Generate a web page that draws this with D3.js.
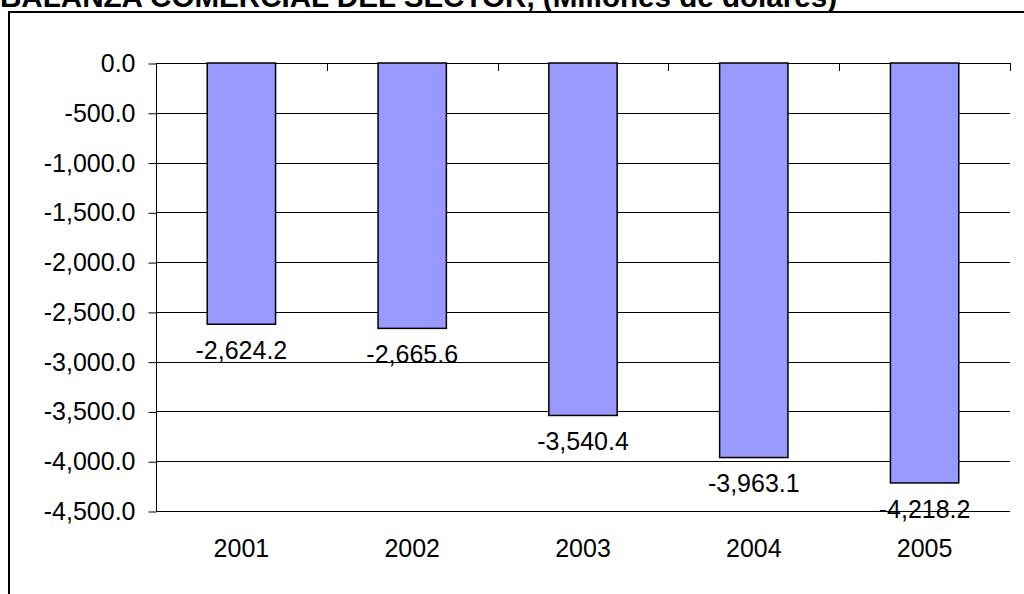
<!DOCTYPE html>
<html>
<head>
<meta charset="utf-8">
<script src="https://cdn.jsdelivr.net/npm/d3@7"></script>
<style>
  html, body { margin: 0; padding: 0; background: #fff; }
  svg { display: block; }
  text { font-family: "Liberation Sans", Arial, sans-serif; fill: #000; }
</style>
</head>
<body>
<svg id="chart" width="1024" height="594"></svg>
<script>
// Balanza comercial del sector, 2001-2005 (millones de dólares)
const years = ["2001", "2002", "2003", "2004", "2005"];
const balance = [-2624.2, -2665.6, -3540.4, -3963.1, -4218.2];
const yTicks = [0, -500, -1000, -1500, -2000, -2500, -3000, -3500, -4000, -4500];
const title = "BALANZA COMERCIAL DEL SECTOR, (Millones de dólares)";

const svg = d3.select("#chart");
const W = 1024, H = 594;
const plot = { left: 156, right: 1010, top: 63, bottom: 511 };

// thousands separator, one decimal, plain hyphen for negatives
const fmt = v => d3.format(",.1f")(v).replace("\u2212", "-");

// outer chart frame (extends past the right and bottom edges)
svg.append("rect")
  .attr("x", 9).attr("y", 12)
  .attr("width", W + 20).attr("height", H + 20)
  .attr("fill", "#fff").attr("stroke", "#000").attr("stroke-width", 2);

// title
svg.append("text")
  .attr("x", 0).attr("y", 7)
  .attr("font-size", 30).attr("font-weight", "bold")
  .attr("textLength", 837).attr("lengthAdjust", "spacingAndGlyphs")
  .text(title);

const x = d3.scaleBand()
  .domain(years)
  .range([plot.left, plot.right])
  .paddingInner(0.6)
  .paddingOuter(0.3);

const y = d3.scaleLinear()
  .domain([-4500, 0])
  .range([plot.bottom, plot.top]);

// horizontal gridlines
svg.append("g")
  .selectAll("line")
  .data(yTicks)
  .join("line")
  .attr("x1", plot.left).attr("x2", plot.right)
  .attr("y1", d => Math.round(y(d)) + 0.5).attr("y2", d => Math.round(y(d)) + 0.5)
  .attr("stroke", "#000").attr("stroke-width", 1);

// value axis
const yAxis = d3.axisLeft(y)
  .tickValues(yTicks)
  .tickFormat(fmt)
  .tickSize(8)
  .tickPadding(13);
const gy = svg.append("g")
  .attr("transform", `translate(${plot.left + 0.5},0.5)`)
  .call(yAxis);
gy.select(".domain").remove();
gy.append("line")
  .attr("x1", 0).attr("x2", 0)
  .attr("y1", plot.top).attr("y2", plot.bottom)
  .attr("stroke", "#000");
gy.selectAll(".tick line").attr("stroke", "#000");
gy.selectAll(".tick text")
  .attr("font-size", 25)
  .attr("font-family", "Liberation Sans, Arial, sans-serif")
  .attr("fill", "#000");

// category axis sits on the zero line, ticks between categories
const step = x.step();
const boundaries = d3.range(years.length + 1).map(i => plot.left + i * step);
const gx = svg.append("g");
gx.append("line")
  .attr("x1", plot.left).attr("x2", plot.right)
  .attr("y1", Math.round(y(0)) + 0.5).attr("y2", Math.round(y(0)) + 0.5)
  .attr("stroke", "#000");
gx.selectAll("line.tick")
  .data(boundaries)
  .join("line")
  .attr("class", "tick")
  .attr("x1", d => Math.round(d) + 0.5).attr("x2", d => Math.round(d) + 0.5)
  .attr("y1", y(0)).attr("y2", y(0) + 8)
  .attr("stroke", "#000");

// bars
svg.append("g")
  .selectAll("rect")
  .data(years.map((yr, i) => ({ yr, v: balance[i] })))
  .join("rect")
  .attr("x", d => x(d.yr))
  .attr("y", d => y(0))
  .attr("width", x.bandwidth())
  .attr("height", d => y(d.v) - y(0))
  .attr("fill", "#9999FF")
  .attr("stroke", "#000")
  .attr("stroke-width", 1.5);

// value labels below each bar end
svg.append("g")
  .selectAll("text")
  .data(years.map((yr, i) => ({ yr, v: balance[i] })))
  .join("text")
  .attr("x", d => x(d.yr) + x.bandwidth() / 2)
  .attr("y", d => y(d.v) + 26)
  .attr("dy", "0.35em")
  .attr("text-anchor", "middle")
  .attr("font-size", 25)
  .text(d => fmt(d.v));

// category labels
svg.append("g")
  .selectAll("text")
  .data(years)
  .join("text")
  .attr("x", d => x(d) + x.bandwidth() / 2)
  .attr("y", 548)
  .attr("dy", "0.35em")
  .attr("text-anchor", "middle")
  .attr("font-size", 25)
  .text(d => d);
</script>
</body>
</html>
